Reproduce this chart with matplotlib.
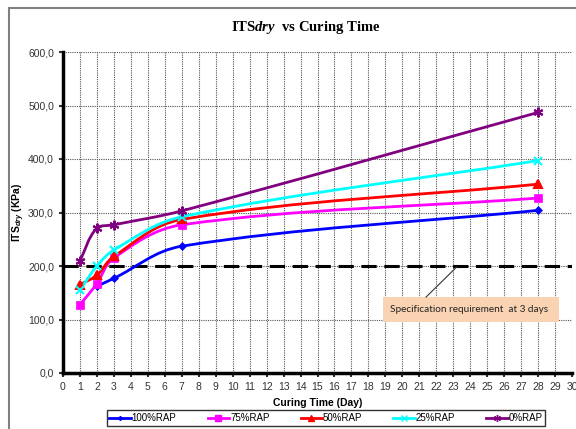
import matplotlib
matplotlib.use("Agg")
import matplotlib.pyplot as plt
from matplotlib.path import Path
from matplotlib.patches import PathPatch, Rectangle
from matplotlib.lines import Line2D

# data
days_100 = [2, 3, 7, 28]
its_100 = [162, 177, 237, 304]
days_all = [1, 2, 3, 7, 28]
its_75 = [128, 167, 215, 277, 327]
its_50 = [165, 183, 218, 287, 353]
its_25 = [155, 200, 230, 292, 397]
its_0 = [210, 271, 277, 303, 487]

series = [
    ("100%RAP", days_100, its_100, "#0000FF", "D", 4),
    ("75%RAP", days_all, its_75, "#FF00FF", "s", 6),
    ("50%RAP", days_all, its_50, "#FF0000", "^", 6),
    ("25%RAP", days_all, its_25, "#00FFFF", "x", 6),
    ("0%RAP", days_all, its_0, "#800080", (6, 2, 0), 7),
]

spec_value = 200
spec_text = "Specification requirement  at 3 days"
x_ticks = list(range(0, 31))
y_ticks = [0, 100, 200, 300, 400, 500, 600]

XMAX, YMAX = 30, 600


def smooth_path(xs, ys):
    # smoothed line (like Excel): cubic Bezier through every point,
    # tangents worked out in axis-normalised space
    pts = [(x / XMAX, y / YMAX) for x, y in zip(xs, ys)]
    n = len(pts)

    def tangent(i):
        a = pts[max(i - 1, 0)]
        b = pts[min(i + 1, n - 1)]
        dx, dy = b[0] - a[0], b[1] - a[1]
        d = (dx * dx + dy * dy) ** 0.5
        return dx / d, dy / d

    verts = [pts[0]]
    codes = [Path.MOVETO]
    for i in range(n - 1):
        p1, p2 = pts[i], pts[i + 1]
        d = ((p2[0] - p1[0]) ** 2 + (p2[1] - p1[1]) ** 2) ** 0.5 / 3
        t1, t2 = tangent(i), tangent(i + 1)
        verts += [(p1[0] + t1[0] * d, p1[1] + t1[1] * d),
                  (p2[0] - t2[0] * d, p2[1] - t2[1] * d), p2]
        codes += [Path.CURVE4] * 3
    verts = [(x * XMAX, y * YMAX) for x, y in verts]
    return Path(verts, codes)


plt.rcParams["font.family"] = ["Liberation Sans", "DejaVu Sans"]
plt.rcParams["mathtext.fontset"] = "custom"
plt.rcParams["mathtext.rm"] = "Liberation Sans"
plt.rcParams["mathtext.it"] = "Liberation Serif:italic:bold"
plt.rcParams["mathtext.sf"] = "Liberation Sans:italic:bold"

fig = plt.figure(figsize=(5.76, 4.29), dpi=100)
ax = fig.add_axes([63 / 576, 1 - 373 / 429, (572 - 63) / 576, (373 - 52) / 429])

# outer chart border
fig.patches.append(Rectangle((9 / 576, -0.05), 1.0, 1 - 8 / 429 + 0.05,
                             transform=fig.transFigure, fill=False,
                             edgecolor="#808080", lw=1.5))

ax.set_xlim(0, XMAX)
ax.set_ylim(0, YMAX)
ax.set_xticks(x_ticks)
ax.set_yticks(y_ticks)
ax.set_yticklabels([f"{v},0" for v in y_ticks])
ax.tick_params(labelsize=7.5, colors="#333333", length=3, width=1.5)
ax.grid(True, color="#555555", linestyle=(0, (1, 1)), linewidth=0.8)
ax.set_axisbelow(True)

for s in ["top", "right"]:
    ax.spines[s].set_visible(False)
for s in ["left", "bottom"]:
    ax.spines[s].set_linewidth(2.5)

ax.axhline(spec_value, color="black", lw=2.2, linestyle=(0, (5, 2.5)), zorder=2)

handles = []
for label, xs, ys, color, marker, ms in series:
    ax.add_patch(PathPatch(smooth_path(xs, ys), facecolor="none",
                           edgecolor=color, lw=2, zorder=3))
    ax.plot(xs, ys, linestyle="none", marker=marker, color=color,
            markersize=ms, markeredgewidth=0.5 if marker in ("D", "s") else 1.5,
            zorder=4)
    handles.append(Line2D([0], [0], color=color, lw=2, marker=marker,
                          markersize=ms - 2, markeredgewidth=1.0))

# specification callout
ax.add_patch(Rectangle((18.85, 95), 10.4, 47, facecolor="#FAD3B3",
                       edgecolor="none", zorder=5, clip_on=False))
ax.text(23.95, 118.5, spec_text, fontsize=7.2, family="Lato", color="#222222",
        ha="center", va="center", zorder=6)
ax.plot([21.4, 23.2], [142, 198], color="#333333", lw=0.8, zorder=5)

fig.text(0.53, 0.935, "ITS$\\mathit{dry}$  vs Curing Time",
         ha="center", va="center", fontsize=10.5, fontweight="bold",
         family="Liberation Serif")
ax.set_xlabel("Curing Time (Day)", fontsize=7.5, fontweight="bold", labelpad=4)
ax.set_ylabel("ITS$_{\\mathsf{dry}}$ (KPa)", fontsize=7.5, fontweight="bold")
ax.yaxis.set_label_coords(-0.07, 0.5)

fig.legend(handles, [s[0] for s in series], loc="center",
           bbox_to_anchor=(326 / 576, 1 - 418 / 429), ncol=5, fontsize=7,
           frameon=True, fancybox=False, edgecolor="black",
           handlelength=2.2, columnspacing=3.2, handletextpad=0.1,
           borderpad=0.3)

fig.savefig("out.png", dpi=100)
